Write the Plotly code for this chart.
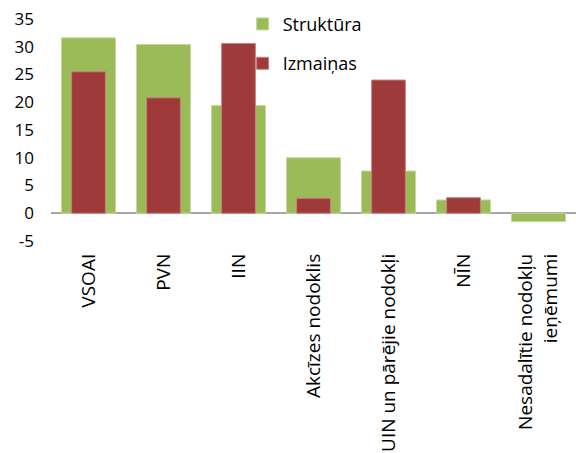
import plotly.graph_objects as go

categories = ["VSOAI", "PVN", "IIN", "Akcīzes nodoklis", "UIN un pārējie nodokļi", "NĪN",
              "Nesadalītie nodokļu<br>ieņēmumi"]
struktura = [31.6, 30.4, 19.4, 10.0, 7.6, 2.4, -1.5]
izmainas = [25.5, 20.8, 30.6, 2.7, 24.0, 2.8, None]
y_ticks = [-5, 0, 5, 10, 15, 20, 25, 30, 35]
y_tick_text = ["-5", "0", "5", "10", "15", "20", "25", "30", "35"]

FONT = "Open Sans"

fig = go.Figure()
fig.add_trace(go.Bar(
    x=categories, y=struktura, name="Struktūra", width=0.72,
    marker=dict(color="#9BBB59", line=dict(color="#C3D89A", width=1)),
    legendgroup="a",
))
fig.add_trace(go.Bar(
    x=categories, y=izmainas, name="Izmaiņas", width=0.45,
    marker=dict(color="#9E3A3A", line=dict(color="#C98080", width=1)),
    legendgroup="b",
))

fig.update_layout(
    width=576, height=453,
    barmode="overlay",
    paper_bgcolor="white", plot_bgcolor="white",
    margin=dict(l=51, r=0, t=19, b=212, autoexpand=False),
    font=dict(family=FONT, size=17, color="#000000"),
    legend=dict(
        x=0.365, y=1.06, xanchor="left", yanchor="top",
        bgcolor="rgba(0,0,0,0)", font=dict(size=18),
        tracegroupgap=13, itemwidth=30,
    ),
    xaxis=dict(
        tickangle=-90, showline=False, showgrid=False, ticks="",
        tickfont=dict(size=19), automargin=False, ticklabelstandoff=8,
    ),
    yaxis=dict(
        range=[-5, 35], tickvals=y_ticks, ticktext=y_tick_text,
        showgrid=False, zeroline=True, zerolinecolor="#A6A6A6", zerolinewidth=1.5,
        showline=False, ticks="", ticklabelstandoff=16,
        tickfont=dict(size=17), automargin=False,
    ),
)

fig.write_html("out.html", config={"displayModeBar": False},
               post_script="document.body.style.margin='0';")
